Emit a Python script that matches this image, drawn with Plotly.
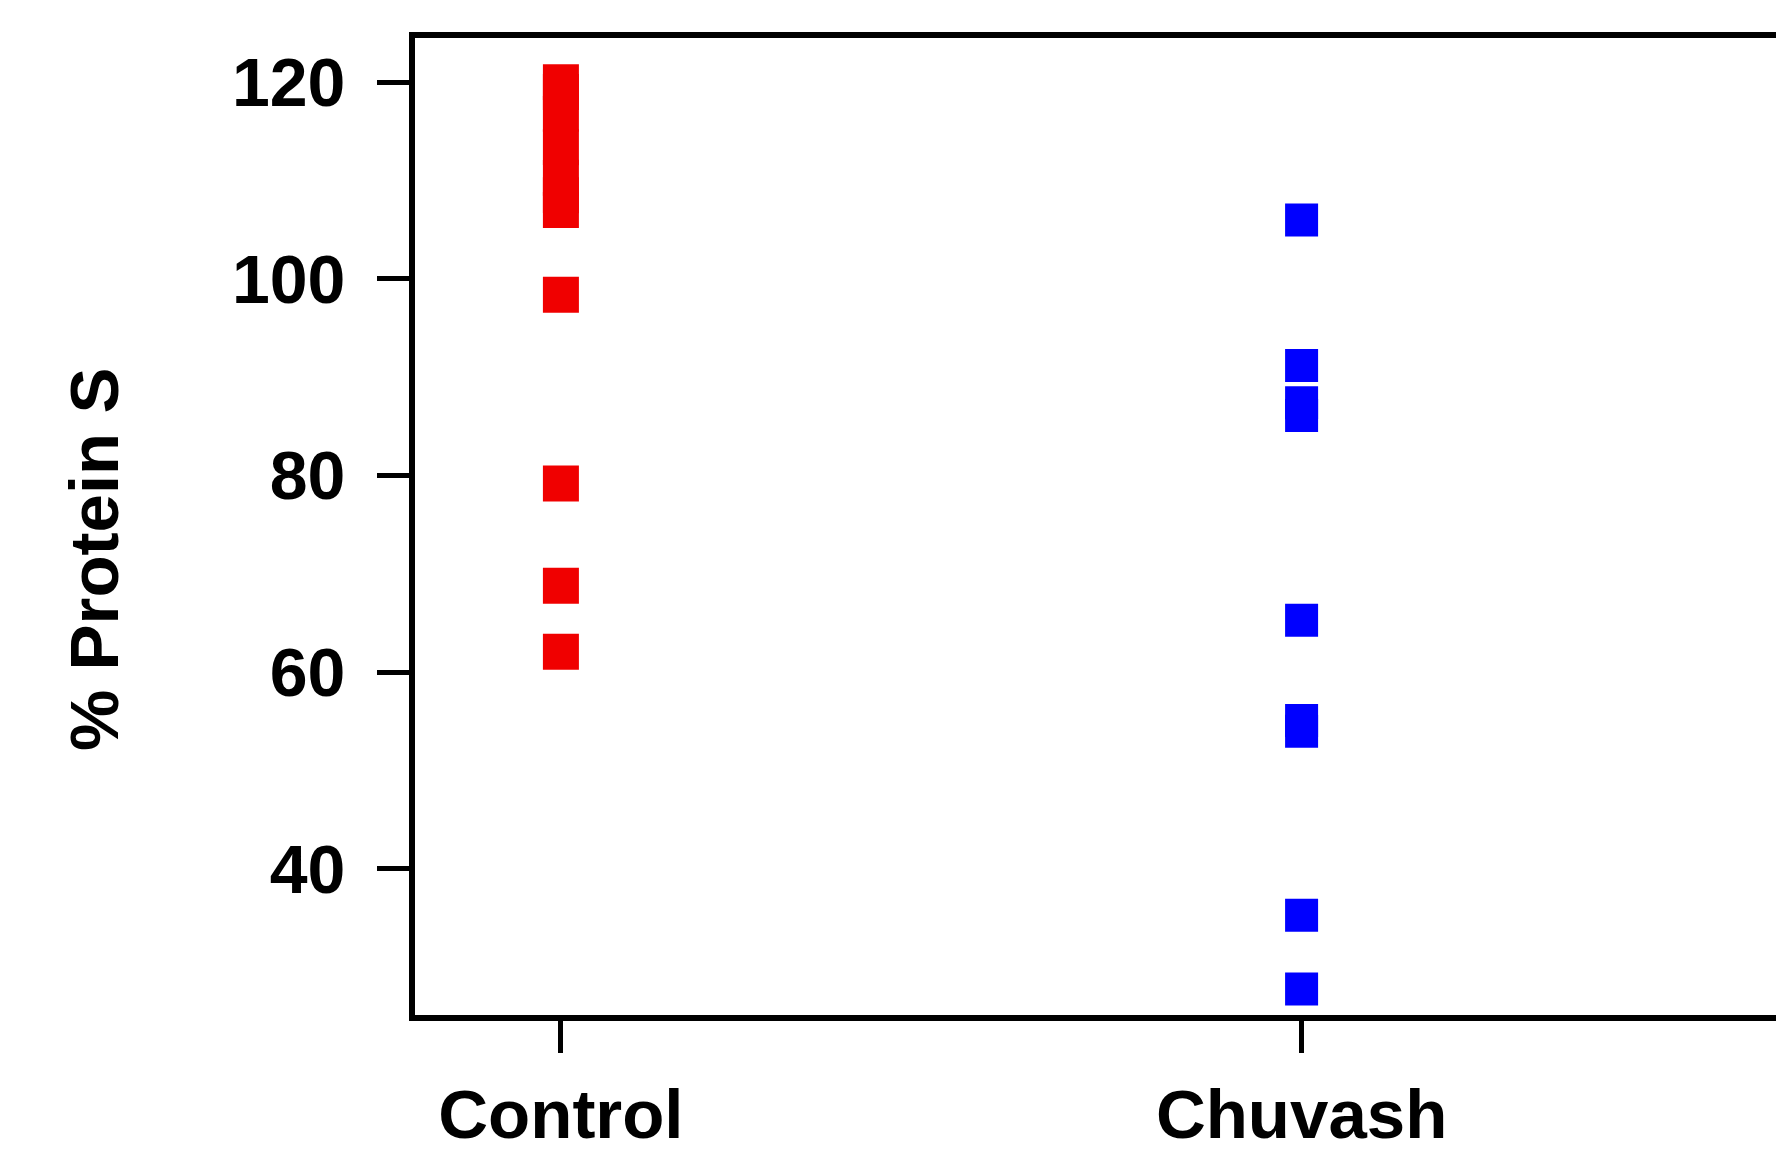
import plotly.graph_objects as go

categories = ["Control", "Chuvash"]
control_values = [120.0, 119.0, 116.8, 113.4, 110.3, 108.5, 107.0, 98.4, 79.2, 68.8, 62.1]
chuvash_values = [106.0, 91.2, 87.4, 86.1, 65.3, 55.1, 54.0, 35.3, 27.8]
y_ticks = [40, 60, 80, 100, 120]
y_title = "% Protein S"

FONT = "Liberation Sans, Arial, sans-serif"
L = 415

fig = go.Figure()
fig.add_trace(go.Scatter(
    x=[0] * len(control_values), y=control_values, mode="markers",
    marker=dict(symbol="square", size=36, color="rgb(240,0,0)", line=dict(width=0)),
    showlegend=False, cliponaxis=False))
fig.add_trace(go.Scatter(
    x=[1] * len(chuvash_values), y=chuvash_values, mode="markers",
    marker=dict(symbol="square", size=33, color="rgb(0,0,255)", line=dict(width=0)),
    showlegend=False, cliponaxis=False))

fig.update_layout(
    width=1776, height=1152,
    margin=dict(l=L, r=0, t=38, b=137, pad=0),
    paper_bgcolor="white", plot_bgcolor="white",
    font=dict(family=FONT, color="black"),
    xaxis=dict(
        range=[-0.197, 1.6405], tickmode="array", tickvals=[0, 1], ticktext=categories,
        showgrid=False, zeroline=False, showline=True, linecolor="black", linewidth=6,
        mirror=True, ticks="outside", ticklen=32, tickwidth=5, tickcolor="black",
        tickfont=dict(family=FONT, size=69, color="black", weight="bold"),
        ticklabelstandoff=2, automargin=False,
    ),
    yaxis=dict(
        range=[25.15, 124.5], tickmode="array", tickvals=y_ticks,
        showgrid=False, zeroline=False, showline=True, linecolor="black", linewidth=6,
        mirror=False, ticks="outside", ticklen=32, tickwidth=5, tickcolor="black",
        tickfont=dict(family=FONT, size=68, color="black", weight="bold"),
        ticklabelstandoff=18, automargin=False,
    ),
    annotations=[dict(
        text=y_title, textangle=-90, showarrow=False,
        xref="paper", yref="paper", x=(95 - L) / (1776 - L), y=(1015 - 560) / 977,
        xanchor="center", yanchor="middle",
        font=dict(family=FONT, size=69, color="black", weight="bold"),
    )],
)

fig.write_html("out.html", config={"displayModeBar": False},
               post_script="document.body.style.margin='0';document.body.style.overflow='hidden';")
